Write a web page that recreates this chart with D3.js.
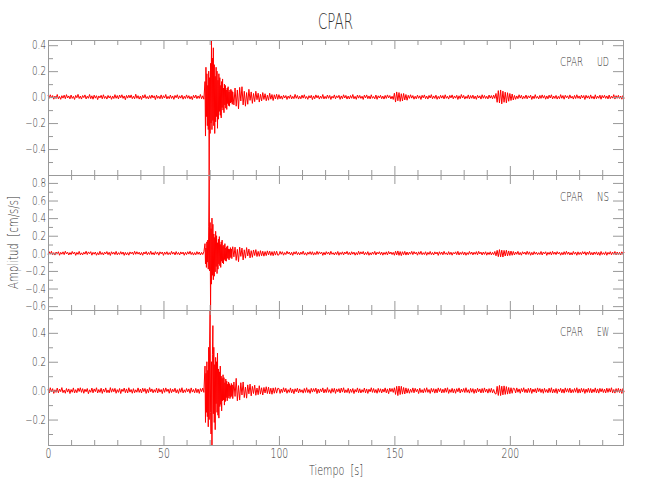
<!DOCTYPE html>
<html>
<head>
<meta charset="utf-8">
<script src="https://cdn.jsdelivr.net/npm/d3@7"></script>
<style>
  body { margin: 0; background: #fff; }
  text { font-family: "DejaVu Sans", sans-serif; font-weight: 200; fill: #333; }
</style>
</head>
<body>
<script>
// ---- DATA (amplitudes in 1e-3 cm/s/s) ----
// pre-event: 0 .. 67.5 s every 0.5 s; event: 68.0 .. 79.8 s every 0.2 s; post-event: 80 .. 249.5 s every 0.5 s
const preStart = 0, preStep = 0.5;
const eventStart = 68, eventStep = 0.2;
const postStart = 80, postStep = 0.5;
const xMajorTicks = [0, 50, 100, 150, 200];
const xMinorTicks = [10,20,30,40,60,70,80,90,110,120,130,140,160,170,180,190,210,220,230,240];
const stationName = "CPAR";
const channels = ["UD", "NS", "EW"];
const udTicks = [-0.4, -0.2, 0.0, 0.2, 0.4];
const nsTicks = [-0.6, -0.4, -0.2, 0.0, 0.2, 0.4, 0.6, 0.8];
const ewTicks = [-0.2, 0.0, 0.2, 0.4];

const udPre = [
14,-9,18,-6,12,-16,8,-11,20,-13, 5,-17,11,-8,15,-12,19,-7,9,-14, 16,-10,6,-18,13,-5,21,-11,8,-15, 12,-4,17,-14,7,-9,20,-12,10,-16,
15,-8,11,-19,9,-6,14,-13,18,-10, 6,-15,13,-7,10,-17,8,-11,19,-9, 12,-14,16,-5,18,-10,9,-20,13,-8, 15,-6,17,-12,7,-13,22,-9,11,-15,
8,-18,14,-7,19,-11,5,-14,12,-10, 16,-6,10,-19,15,-9,7,-13,17,-12, 11,-7,20,-14,6,-12,16,-10,9,-17, 13,-5,18,-13,10,-8,15,-16,7,-11,
17,-9,11,-15,6,-19,14,-7,16,-12, 9,-10,20,-13,10,-16
];
const udEvent = [
120,-300,230,-150,180,-220,90,-250,200,-600, 150,-280,260,-200,440,-250,300,-180,380,-220,
250,-280,160,-190,230,-150,200,-240,130,-170, 180,-110,150,-140,90,-160,120,-80,140,-100,
70,-120,100,-60,90,-85,55,-95,70,-50, 80,-65,40,-70,55,-45,60,-40,50,-55
];
const udPost = [
40,-60,70,-70,55,-90, 75,-30,80,-60,45,-70,35,-55,60,-25, 40,-48,28,-35,45,-20,30,-38,22,-30, 35,-18,26,-28,15,-24,30,-16,20,-26, 18,-14,22,-17,
19,-13,9,-16,14,-7,12,-18,8,-10, 17,-14,6,-12,21,-9,13,-15,7,-13, 15,-8,18,-11,5,-17,11,-7,14,-19, 9,-13,17,-6,12,-15,8,-10,20,-14,
6,-12,16,-9,13,-18,7,-8,17,-13, 10,-5,14,-17,9,-12,18,-7,13,-15, 8,-14,12,-9,20,-13,6,-17,16,-8, 13,-10,7,-18,15,-6,17,-12,9,-14,
18,-9,5,-13,16,-17,10,-7,14,-12, 8,-15,13,-10,17,-6,12,-14,7,-18,
30,-38,40,-28,35,-33,26,-30,28,-22,20,-24,
14,-10,18,-8,12,-16,7,-13,15,-9, 10,-18,14,-6,17,-12,8,-15,13,-7, 19,-13,9,-10,15,-17,6,-12,14,-8, 12,-14,18,-9,7,-15,13,-6,17,-13,
9,-8,14,-18,10,-12,20,-7,13,-15, 6,-10,17,-14,12,-9,15,-13,8,-17, 14,-7,10,-15,18,-9,13,-11,7,-14, 16,-8,12,-13,15,-10,
28,-40,50,-45,55,-52,46,-40,38,-44,34,-32,28,-26,24,-22,
13,-17,9,-12,18,-8,14,-15,7,-10, 16,-13,10,-6,15,-18,8,-12,19,-9, 6,-14,13,-10,17,-8,12,-16,9,-13, 15,-7,18,-14,8,-10,13,-15,6,-12,
19,-9,12,-16,14,-5,10,-13,17,-8, 7,-15,13,-11,18,-9,9,-14,15,-7, 12,-18,14,-8,10,-13,17,-10,6,-15, 18,-12,8,-9,15,-16,13,-7,14,-10,
9,-14,16,-12,7,-8,19,-15,11,-9, 14,-10,8,-16,12,-11
];

const nsPre = [
-13,19,-9,23,-16,8,-20,14,-6,18, -22,11,-10,17,-15,24,-7,13,-19,9, -14,21,-8,15,-23,10,-12,22,-17,6, -18,13,-9,24,-14,16,-5,19,-21,11,
-10,15,-22,8,-17,23,-13,9,-19,14, -7,20,-15,12,-24,18,-9,13,-14,22, -17,8,-13,19,-10,15,-23,11,-18,9, -21,16,-6,14,-15,23,-11,18,-9,13,
-19,10,-22,15,-8,20,-16,11,-13,24, -14,9,-18,19,-10,13,-21,17,-6,15, -23,14,-11,18,-16,8,-15,22,-9,13, -18,20,-12,10,-19,16,-8,14,-22,11,
-15,18,-9,23,-14,12,-20,9,-17,19, -11,15,-19,10,-14,17
];
const nsEvent = [
110,-120,60,-160,130,-100,150,-180,300,890, -200,350,-644,280,-350,400,-250,330,-300,220,
-260,180,-210,250,-150,200,-230,120,-180,160, -120,190,-140,100,-160,130,-90,150,-110,80,
-120,95,-70,110,-85,60,-90,75,-55,85, -60,50,-75,45,-55,65,-40,50,-60,40
];
const nsPost = [
75,-40,70,-80,45,-95, 70,-35,60,-75,40,-55,65,-30,48,-52, 30,-45,38,-25,42,-36,22,-34,30,-28, 24,-32,20,-26,28,-18,25,-24,19,-27, 22,-20,24,-21,
-17,22,-11,18,-21,9,-14,23,-7,15, -19,12,-23,17,-9,21,-15,10,-18,14, -11,24,-16,7,-22,13,-10,19,-14,18, -20,9,-15,22,-12,17,-6,14,-23,11,
-18,19,-9,15,-17,23,-11,7,-19,13, -14,21,-22,10,-12,17,-18,15,-7,22, -15,11,-19,18,-10,14,-21,9,-17,23, -12,17,-8,21,-18,11,-14,19,-22,7,
-17,15,-11,22,-19,13,-7,18,-15,14, -21,10,-13,17,-18,21,-8,15,-14,11,
-22,24,-19,27,-23,20,-26,18,-16,22,-20,15,
-18,14,-10,22,-15,19,-7,13,-21,17, -11,23,-16,8,-14,18,-22,11,-12,21, -15,10,-19,17,-8,14,-23,18,-12,15, -17,22,-11,7,-18,19,-14,13,-21,10,
-8,17,-15,23,-19,11,-12,18,-17,14, -22,8,-14,21,-10,15,-18,12,-11,19, -17,22,-7,14,-19,15,-12,18,-21,10, -14,17,-18,11,-15,21,
-28,34,-38,42,-40,36,-42,33,-30,35,-29,27,-25,26,-22,21,
-19,15,-11,22,-17,10,-21,18,-8,14, -15,23,-12,17,-22,11,-18,19,-10,13, -16,8,-14,21,-19,15,-7,18,-23,11, -12,17,-18,22,-11,14,-15,19,-8,13,
-21,10,-17,18,-14,23,-11,15,-19,8, -18,21,-10,13,-22,17,-14,11,-15,19, -8,18,-21,14,-12,22,-17,10,-19,15, -11,17,-18,12,-23,21,-14,8,-15,18,
-22,11,-10,19,-17,14,-12,21,-18,15, -14,12,-19,17,-11,15
];

const ewPre = [
10,-16,20,-8,14,-19,6,-12,18,-15, 11,-7,21,-14,4,-18,15,-10,12,-20, 8,-11,19,-16,7,-14,17,-6,20,-12, 14,-18,10,-8,15,-21,6,-11,18,-15,
12,-7,20,-16,8,-12,17,-19,11,-10, 19,-14,5,-15,21,-11,14,-8,16,-18, 7,-12,15,-20,10,-6,18,-14,12,-16, 20,-10,8,-18,14,-15,6,-11,19,-12,
11,-16,17,-7,15,-19,10,-14,21,-8, 12,-15,7,-11,18,-16,14,-10,8,-20, 16,-12,19,-6,11,-18,15,-14,10,-8, 17,-15,7,-19,14,-11,20,-16,6,-12,
15,-8,12,-18,19,-10,8,-15,16,-14, 11,-19,14,-7,18,-12
];
const ewEvent = [
170,-220,120,-150,200,-180,140,-250,300,-200, 350,558,-150,-300,200,-376,250,450,-160,300,
-220,180,-270,230,-90,200,-150,260,-170,150, -190,130,-110,170,-95,100,-140,85,-70,110,
-65,90,-100,55,-75,80,-48,65,-70,45, -52,60,-38,48,-55,35,-45,50,-36,40
];
const ewPost = [
-55,60,-40,85,-70,35, -65,55,-30,60,-48,25,-52,40,-22,45, -36,30,-20,38,-32,18,-28,34,-24,20, -30,22,-16,27,-20,24,-22,17,-25,19, -18,21,-17,16,
15,-19,11,-13,20,-9,16,-18,7,-12, 19,-15,10,-21,13,-8,17,-16,12,-11, 6,-17,15,-12,20,-13,8,-19,16,-10, 14,-7,18,-20,11,-15,12,-8,19,-16,
10,-13,21,-12,7,-18,15,-11,16,-19, 12,-8,14,-16,18,-10,20,-15,6,-13, 16,-18,11,-12,15,-20,8,-10,19,-14, 13,-16,7,-11,18,-15,12,-19,10,-8,
20,-12,15,-14,8,-18,16,-11,13,-16, 11,-10,19,-15,12,-21,17,-7,15,-12,
20,-26,30,-34,32,-27,30,-24,22,-23,19,-17,
14,-18,10,-12,19,-15,16,-8,11,-20, 17,-13,7,-16,15,-11,20,-12,8,-19, 16,-10,14,-17,12,-15,19,-7,15,-16, 10,-14,17,-11,20,-19,8,-12,16,-15,
12,-18,14,-8,19,-16,11,-10,15,-13, 20,-12,7,-17,16,-11,14,-19,10,-15, 17,-8,12,-16,15,-14,19,-10,11,-17, 14,-12,16,-15,8,-19,
-24,30,-33,36,-34,31,-29,33,-26,28,-24,22,-21,20,-18,17,
14,-16,19,-11,12,-18,15,-8,20,-13, 10,-15,16,-12,18,-19,11,-10,14,-16, 19,-7,15,-13,12,-18,16,-11,8,-15, 17,-12,20,-16,10,-14,15,-19,12,-8,
16,-15,11,-17,19,-10,14,-12,18,-16, 8,-13,15,-11,20,-17,12,-15,16,-10, 14,-19,11,-12,17,-13,15,-16,10,-11, 19,-15,12,-17,16,-8,14,-13,11,-16,
17,-12,15,-10,20,-15,8,-17,14,-11, 16,-13,12,-19,15,-10
];

// ---- DRAWING ----
const W = 650, H = 500;
const svg = d3.select("body").append("svg").attr("width", W).attr("height", H);

const x = d3.scaleLinear().domain([0, 249]).range([48, 623]);
const panelTop = 40, panelH = 135;
const axisColor = "#999";
const textColor = "#333";
const fontFam = '"DejaVu Sans", sans-serif';

function buildSeries(pre, ev, post) {
  return [
    ...pre.map((v, i) => [preStart + i * preStep, v / 1000]),
    ...ev.map((v, i) => [eventStart + i * eventStep, v / 1000]),
    ...post.map((v, i) => [postStart + i * postStep, v / 1000])
  ];
}

const panels = [
  { name: channels[0], series: buildSeries(udPre, udEvent, udPost), ticks: udTicks },
  { name: channels[1], series: buildSeries(nsPre, nsEvent, nsPost), ticks: nsTicks },
  { name: channels[2], series: buildSeries(ewPre, ewEvent, ewPost), ticks: ewTicks }
];

// narrow the glyphs to imitate the thin condensed vector font of the original
function squeeze(sel, widthFn) {
  sel.each(function () {
    const w = widthFn(this.textContent);
    if (w > 0) d3.select(this).attr("textLength", w).attr("lengthAdjust", "spacingAndGlyphs");
  });
}
const charW = (map, dflt) => s => Array.from(s).reduce((a, c) => a + (map[c] !== undefined ? map[c] : dflt), 0);
const yTickW = charW({ ".": 3.4, "−": 6.6, "-": 6.6 }, 5.3);
const xTickW = charW({}, 5.9);

function styleAxis(g) {
  g.selectAll("path").attr("stroke", axisColor).attr("stroke-width", 1);
  g.selectAll("line").attr("stroke", axisColor).attr("stroke-width", 1);
  g.selectAll("text").attr("fill", textColor).style("font-family", fontFam).style("font-weight", 200);
}

panels.forEach((p, k) => {
  const top = panelTop + k * panelH, bottom = top + panelH;
  const y = d3.scaleLinear().domain(d3.extent(p.series, d => d[1])).range([bottom, top]);
  const [ymin, ymax] = y.domain();
  const yMinor = d3.range(Math.ceil(ymin * 10 - 1e-6), Math.floor(ymax * 10 + 1e-6) + 1)
    .map(v => v / 10).filter(v => !p.ticks.some(t => Math.abs(t - v) < 1e-6));

  // trace
  const line = d3.line().x(d => x(d[0])).y(d => y(d[1]));
  svg.append("path").datum(p.series)
    .attr("d", line)
    .attr("fill", "none")
    .attr("stroke", "#ff0000")
    .attr("stroke-width", 1)
    .attr("stroke-linejoin", "round");

  // left axis
  const gl = svg.append("g").attr("transform", `translate(${x.range()[0]},0)`)
    .call(d3.axisLeft(y).tickValues(p.ticks).tickSize(-10).tickSizeOuter(0).tickPadding(2).tickFormat(d3.format(".1f")));
  gl.selectAll("text").style("font-size", "11.5px");
  styleAxis(gl);
  squeeze(gl.selectAll("text"), yTickW);
  const glm = svg.append("g").attr("transform", `translate(${x.range()[0]},0)`)
    .call(d3.axisLeft(y).tickValues(yMinor).tickSize(-5).tickSizeOuter(0).tickFormat(""));
  styleAxis(glm);
  // right axis
  const gr = svg.append("g").attr("transform", `translate(${x.range()[1]},0)`)
    .call(d3.axisRight(y).tickValues(p.ticks).tickSize(-10).tickSizeOuter(0).tickFormat(""));
  styleAxis(gr);
  const grm = svg.append("g").attr("transform", `translate(${x.range()[1]},0)`)
    .call(d3.axisRight(y).tickValues(yMinor).tickSize(-5).tickSizeOuter(0).tickFormat(""));
  styleAxis(grm);
  // top axis
  const gt = svg.append("g").attr("transform", `translate(0,${top})`)
    .call(d3.axisTop(x).tickValues(xMajorTicks).tickSize(-9).tickSizeOuter(0).tickFormat(""));
  styleAxis(gt);
  const gtm = svg.append("g").attr("transform", `translate(0,${top})`)
    .call(d3.axisTop(x).tickValues(xMinorTicks).tickSize(-5).tickSizeOuter(0).tickFormat(""));
  styleAxis(gtm);
  // bottom axis
  const gb = svg.append("g").attr("transform", `translate(0,${bottom})`)
    .call(d3.axisBottom(x).tickValues(xMajorTicks).tickSize(-9).tickSizeOuter(0).tickPadding(3)
      .tickFormat(k === panels.length - 1 ? d3.format("d") : ""));
  gb.selectAll("text").style("font-size", "13.5px");
  styleAxis(gb);
  squeeze(gb.selectAll("text"), xTickW);
  const gbm = svg.append("g").attr("transform", `translate(0,${bottom})`)
    .call(d3.axisBottom(x).tickValues(xMinorTicks).tickSize(-5).tickSizeOuter(0).tickFormat(""));
  styleAxis(gbm);

  // channel label
  svg.append("text").attr("x", 560).attr("y", top + 26).attr("font-size", 13)
    .attr("textLength", 23).attr("lengthAdjust", "spacingAndGlyphs").text(stationName);
  svg.append("text").attr("x", 597).attr("y", top + 26).attr("font-size", 13)
    .attr("textLength", 12).attr("lengthAdjust", "spacingAndGlyphs").text(p.name);
});

// title
svg.append("text").attr("x", 318).attr("y", 29)
  .attr("font-size", 20.5).attr("fill", "#444")
  .attr("textLength", 35).attr("lengthAdjust", "spacingAndGlyphs").text(stationName);
// x label
svg.append("text").attr("x", 309).attr("y", 475)
  .attr("font-size", 13.5).attr("xml:space", "preserve")
  .attr("textLength", 54).attr("lengthAdjust", "spacingAndGlyphs").text("Tiempo  [s]");
// y label
svg.append("text").attr("transform", "translate(18,289) rotate(-90)")
  .attr("font-size", 13.5).attr("xml:space", "preserve")
  .attr("textLength", 93).attr("lengthAdjust", "spacingAndGlyphs").text("Amplitud  [cm/s/s]");
</script>
</body>
</html>
